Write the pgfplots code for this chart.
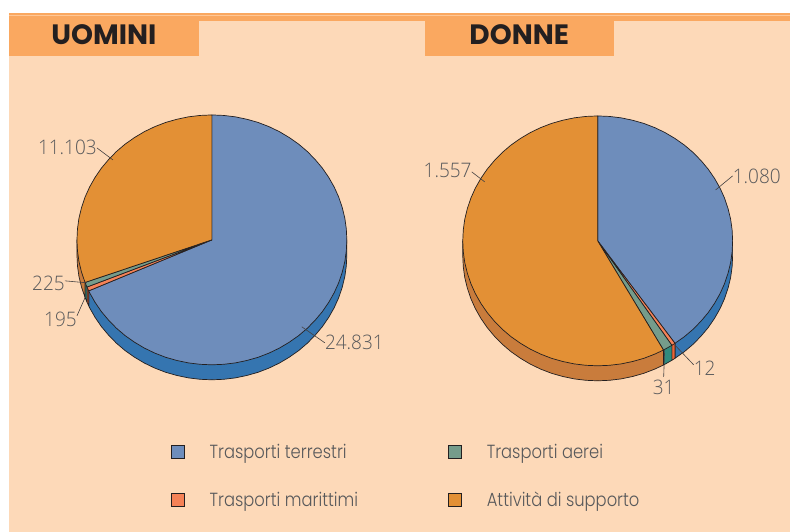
\documentclass[border=0pt]{standalone}
\usepackage{fontspec}
\usepackage{graphicx}
\usepackage{pgfplots}
\pgfplotsset{compat=1.18}
\setmainfont{Poppins}[UprightFont=* Light,BoldFont=* Bold]
\newfontfamily\numeri{Open Sans}[UprightFont=* Light]

\definecolor{sfondo}{HTML}{FDD9B8}
\definecolor{fascia}{HTML}{FAA860}
\definecolor{luce}{HTML}{FFC796}
\definecolor{testo}{HTML}{58595B}
\definecolor{nero}{HTML}{231F20}
\definecolor{terrestri}{HTML}{6E8DBB}
\definecolor{marittimi}{HTML}{F58257}
\definecolor{aerei}{HTML}{759C8B}
\definecolor{supporto}{HTML}{E39035}
\definecolor{terrestriS}{HTML}{3575B0}
\definecolor{marittimiS}{HTML}{EA6436}
\definecolor{aereiS}{HTML}{2F8A7E}
\definecolor{supportoS}{HTML}{C97C3C}

\newcommand{\lab}[1]{\fontsize{20}{20}\selectfont\numeri\scalebox{0.95}[1]{#1}}
\newcommand{\leg}[1]{\fontsize{19}{19}\selectfont\scalebox{0.86}[1]{#1}}
\newcommand{\tit}[1]{\fontsize{28}{28}\selectfont\bfseries #1}

\tikzset{etichetta/.style={inner sep=0pt,text=testo}}
\pgfplotsset{
  fetta/.style={draw=nero,line width=0.7pt,line join=round},
  filo/.style={draw=nero!85,line width=0.6pt,forget plot},
  pagina/.style={
    scale only axis,hide axis,clip=false,
    width=790pt,height=532pt,
    xmin=0,xmax=790,ymin=0,ymax=532,y dir=reverse,
  },
  torta/.style={
    scale only axis,hide axis,clip=false,anchor=center,
    width=300pt,height=300pt,
    xmin=-150,xmax=150,ymin=-150,ymax=150,
  },
}

\begin{document}
\begin{tikzpicture}

% page: background, header tabs, legend
\begin{axis}[pagina,at={(0pt,0pt)},anchor=south west,
  legend columns=2,
  legend cell align=left,
  legend image code/.code={\draw[#1] (0pt,-6.5pt) rectangle (13pt,6.5pt);},
  legend style={draw=none,fill=none,at={(axis cs:171,428)},anchor=north west,
    inner sep=0pt,outer sep=0pt,
    nodes={inner sep=0pt,text=testo,minimum height=48pt,anchor=west},
    /tikz/every even column/.style={column sep=90pt},
    /tikz/every odd column/.style={column sep=25pt}},
]
\addplot[fill=white,draw=none,forget plot] coordinates {(0,0) (790,0) (790,532) (0,532)};
\addplot[fill=sfondo,draw=none,forget plot] coordinates {(9,13) (790,13) (790,532) (9,532)};
\addplot[fill=fascia,draw=none,forget plot] coordinates {(9,13) (790,13) (790,21) (9,21)};
\addplot[fill=fascia,draw=none,forget plot] coordinates {(9,21) (199,21) (199,56) (9,56)};
\addplot[fill=fascia,draw=none,forget plot] coordinates {(425,21) (614,21) (614,56) (425,56)};
\addplot[draw=luce,line width=0.8pt,forget plot] coordinates {(9,15.5) (790,15.5)};
\node[text=nero,inner sep=0pt] at (axis cs:104,35) {\tit{UOMINI}};
\node[text=nero,inner sep=0pt] at (axis cs:519.5,35) {\tit{DONNE}};
\addlegendimage{fill=terrestri,draw=nero,line width=0.8pt}
\addlegendentry{\leg{Trasporti terrestri}}
\addlegendimage{fill=aerei,draw=nero,line width=0.8pt}
\addlegendentry{\leg{Trasporti aerei}}
\addlegendimage{fill=marittimi,draw=nero,line width=0.8pt}
\addlegendentry{\leg{Trasporti marittimi}}
\addlegendimage{fill=supporto,draw=nero,line width=0.8pt}
\addlegendentry{\leg{Attività di supporto}}
\end{axis}

% UOMINI: 24831, 195, 225, 11103
\begin{axis}[torta,at={(212pt,292pt)}]
% side walls
\addplot[fetta,fill=terrestriS] coordinates {(0,0) (135,0) (135,-15) (134.5,-25.9) (133,-36.7) (130.4,-47.4) (126.9,-57.8) (122.4,-67.8) (116.9,-77.5) (110.6,-86.7) (103.4,-95.3) (95.5,-103.4) (86.8,-110.8) (77.4,-117.4) (67.5,-123.3) (57.1,-128.3) (46.2,-132.5) (34.9,-135.7) (23.4,-138.1) (11.8,-139.5) (0,-140) (-11.8,-139.5) (-23.4,-138.1) (-34.9,-135.7) (-46.2,-132.5) (-57.1,-128.3) (-67.5,-123.3) (-77.4,-117.4) (-86.8,-110.8) (-95.5,-103.4) (-103.4,-95.3) (-110.6,-86.7) (-116.9,-77.5) (-122.4,-67.8) (-123.2,-66) (-123.2,-51) (0,0)};
\addplot[fetta,fill=marittimiS] coordinates {(0,0) (-123.2,-51) (-123.2,-66) (-125,-62.2) (-125,-47.2) (0,0)};
\addplot[fetta,fill=aereiS] coordinates {(0,0) (-125,-47.2) (-125,-62.2) (-126.9,-57.6) (-126.9,-42.6) (0,0)};
\addplot[fetta,fill=supportoS] coordinates {(0,0) (-126.9,-42.6) (-126.9,-57.6) (-130.4,-47.4) (-133,-36.7) (-134.5,-25.9) (-135,-15) (-135,0) (0,0)};
% top face
\addplot[fetta,fill=terrestri] coordinates {(0,0) (0,125) (11.8,124.5) (23.4,123.1) (34.9,120.7) (46.2,117.5) (57.1,113.3) (67.5,108.3) (77.4,102.4) (86.8,95.8) (95.5,88.4) (103.4,80.3) (110.6,71.7) (116.9,62.5) (122.4,52.8) (126.9,42.8) (130.4,32.4) (133,21.7) (134.5,10.9) (135,0) (134.5,-10.9) (133,-21.7) (130.4,-32.4) (126.9,-42.8) (122.4,-52.8) (116.9,-62.5) (110.6,-71.7) (103.4,-80.3) (95.5,-88.4) (86.8,-95.8) (77.4,-102.4) (67.5,-108.3) (57.1,-113.3) (46.2,-117.5) (34.9,-120.7) (23.4,-123.1) (11.8,-124.5) (0,-125) (-11.8,-124.5) (-23.4,-123.1) (-34.9,-120.7) (-46.2,-117.5) (-57.1,-113.3) (-67.5,-108.3) (-77.4,-102.4) (-86.8,-95.8) (-95.5,-88.4) (-103.4,-80.3) (-110.6,-71.7) (-116.9,-62.5) (-122.4,-52.8) (-123.2,-51) (0,0)};
\addplot[fetta,fill=marittimi] coordinates {(0,0) (-123.2,-51) (-125,-47.2) (0,0)};
\addplot[fetta,fill=aerei] coordinates {(0,0) (-125,-47.2) (-126.9,-42.6) (0,0)};
\addplot[fetta,fill=supporto] coordinates {(0,0) (-126.9,-42.6) (-130.4,-32.4) (-133,-21.7) (-134.5,-10.9) (-135,0) (-134.5,10.9) (-133,21.7) (-130.4,32.4) (-126.9,42.8) (-122.4,52.8) (-116.9,62.5) (-110.6,71.7) (-103.4,80.3) (-95.5,88.4) (-86.8,95.8) (-77.4,102.4) (-67.5,108.3) (-57.1,113.3) (-46.2,117.5) (-34.9,120.7) (-23.4,123.1) (-11.8,124.5) (0,125) (0,0)};
% leaders
\addplot[filo] coordinates {(-115,92) (-99,80)};
\addplot[filo] coordinates {(90,-87) (113,-103)};
\addplot[filo] coordinates {(-147,-41) (-125,-43)};
\addplot[filo] coordinates {(-135,-76) (-127,-58)};
\node[etichetta,anchor=east] at (axis cs:-115,93) {\lab{11.103}};
\node[etichetta,anchor=west] at (axis cs:113,-103) {\lab{24.831}};
\node[etichetta,anchor=east] at (axis cs:-147,-44) {\lab{225}};
\node[etichetta,anchor=east] at (axis cs:-135,-80) {\lab{195}};
\end{axis}

% DONNE: 1080, 12, 31, 1557
\begin{axis}[torta,at={(598pt,291pt)}]
% side walls
\addplot[fetta,fill=terrestriS] coordinates {(0,0) (135,0) (135,-15) (134.5,-25.9) (133,-36.7) (130.4,-47.4) (126.9,-57.8) (122.4,-67.8) (116.9,-77.5) (110.6,-86.7) (103.4,-95.3) (95.5,-103.4) (86.8,-110.8) (77.4,-117.4) (77.3,-117.5) (77.3,-102.5) (0,0)};
\addplot[fetta,fill=marittimiS] coordinates {(0,0) (77.3,-102.5) (77.3,-117.5) (74.2,-119.5) (74.2,-104.5) (0,0)};
\addplot[fetta,fill=aereiS] coordinates {(0,0) (74.2,-104.5) (74.2,-119.5) (67.5,-123.3) (65.8,-124.2) (65.8,-109.2) (0,0)};
\addplot[fetta,fill=supportoS] coordinates {(0,0) (65.8,-109.2) (65.8,-124.2) (57.1,-128.3) (46.2,-132.5) (34.9,-135.7) (23.4,-138.1) (11.8,-139.5) (0,-140) (-11.8,-139.5) (-23.4,-138.1) (-34.9,-135.7) (-46.2,-132.5) (-57.1,-128.3) (-67.5,-123.3) (-77.4,-117.4) (-86.8,-110.8) (-95.5,-103.4) (-103.4,-95.3) (-110.6,-86.7) (-116.9,-77.5) (-122.4,-67.8) (-126.9,-57.8) (-130.4,-47.4) (-133,-36.7) (-134.5,-25.9) (-135,-15) (-135,0) (0,0)};
% top face
\addplot[fetta,fill=terrestri] coordinates {(0,0) (0,125) (11.8,124.5) (23.4,123.1) (34.9,120.7) (46.2,117.5) (57.1,113.3) (67.5,108.3) (77.4,102.4) (86.8,95.8) (95.5,88.4) (103.4,80.3) (110.6,71.7) (116.9,62.5) (122.4,52.8) (126.9,42.8) (130.4,32.4) (133,21.7) (134.5,10.9) (135,0) (134.5,-10.9) (133,-21.7) (130.4,-32.4) (126.9,-42.8) (122.4,-52.8) (116.9,-62.5) (110.6,-71.7) (103.4,-80.3) (95.5,-88.4) (86.8,-95.8) (77.3,-102.5) (0,0)};
\addplot[fetta,fill=marittimi] coordinates {(0,0) (77.3,-102.5) (74.2,-104.5) (0,0)};
\addplot[fetta,fill=aerei] coordinates {(0,0) (74.2,-104.5) (67.5,-108.3) (65.8,-109.2) (0,0)};
\addplot[fetta,fill=supporto] coordinates {(0,0) (65.8,-109.2) (57.1,-113.3) (46.2,-117.5) (34.9,-120.7) (23.4,-123.1) (11.8,-124.5) (0,-125) (-11.8,-124.5) (-23.4,-123.1) (-34.9,-120.7) (-46.2,-117.5) (-57.1,-113.3) (-67.5,-108.3) (-77.4,-102.4) (-86.8,-95.8) (-95.5,-88.4) (-103.4,-80.3) (-110.6,-71.7) (-116.9,-62.5) (-122.4,-52.8) (-126.9,-42.8) (-130.4,-32.4) (-133,-21.7) (-134.5,-10.9) (-135,0) (-134.5,10.9) (-133,21.7) (-130.4,32.4) (-126.9,42.8) (-122.4,52.8) (-116.9,62.5) (-110.6,71.7) (-103.4,80.3) (-95.5,88.4) (-86.8,95.8) (-77.4,102.4) (-67.5,108.3) (-57.1,113.3) (-46.2,117.5) (-34.9,120.7) (-23.4,123.1) (-11.8,124.5) (0,125) (0,0)};
% leaders
\addplot[filo] coordinates {(-126,69) (-113,59)};
\addplot[filo] coordinates {(118,51) (135,65)};
\addplot[filo] coordinates {(77,-104) (96,-124)};
\addplot[filo] coordinates {(67,-109) (66,-136)};
\node[etichetta,anchor=east] at (axis cs:-126,70) {\lab{1.557}};
\node[etichetta,anchor=west] at (axis cs:135,65) {\lab{1.080}};
\node[etichetta,anchor=west] at (axis cs:96,-127) {\lab{12}};
\node[etichetta] at (axis cs:66,-147) {\lab{31}};
\end{axis}

\end{tikzpicture}
\end{document}
